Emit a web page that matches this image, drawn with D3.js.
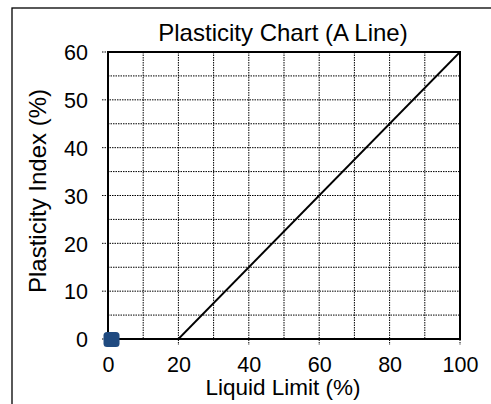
<!DOCTYPE html>
<html>
<head>
<meta charset="utf-8">
<script src="https://cdn.jsdelivr.net/npm/d3@7"></script>
<style>
  body { margin: 0; background: #fff; }
  svg { display: block; font-family: "Liberation Sans", Arial, sans-serif; }
</style>
</head>
<body>
<svg id="chart" width="491" height="404"></svg>
<script>
// A line: PI = 0.75 (LL - 20)
var aLineLL = [20, 100];
var aLinePI = [0, 60];

// sample points
var sampleLL = [1];
var samplePI = [0];

var xTicks = [0, 20, 40, 60, 80, 100];
var yTicks = [0, 10, 20, 30, 40, 50, 60];
var xGrid = d3.range(0, 101, 10);
var yGrid = d3.range(0, 61, 5);

var plotL = 108, plotR = 460, plotT = 52, plotB = 339;

var svg = d3.select("#chart");

// outer frame (clipped by window on right/bottom)
svg.append("rect")
  .attr("x", 12).attr("y", 8)
  .attr("width", 520).attr("height", 440)
  .attr("fill", "none").attr("stroke", "#000").attr("stroke-width", 1.3);

var x = d3.scaleLinear().domain([0, 100]).range([plotL, plotR]);
var y = d3.scaleLinear().domain([0, 60]).range([plotB, plotT]);

// grid lines, dotted
var g = svg.append("g");
g.selectAll(".vg")
  .data(xGrid)
  .enter()
  .append("line")
  .attr("x1", d => x(d)).attr("x2", d => x(d))
  .attr("y1", plotT)
  .attr("y2", d => xTicks.indexOf(d) >= 0 ? plotB + 6 : plotB)
  .attr("stroke", "#000").attr("stroke-width", 1)
  .attr("stroke-dasharray", "1.5,1");

g.selectAll(".hg")
  .data(yGrid)
  .enter()
  .append("line")
  .attr("y1", d => y(d)).attr("y2", d => y(d))
  .attr("x1", d => yTicks.indexOf(d) >= 0 ? plotL - 6 : plotL)
  .attr("x2", plotR)
  .attr("stroke", "#000").attr("stroke-width", 1)
  .attr("stroke-dasharray", "1.5,1");

// plot border
svg.append("rect")
  .attr("x", plotL).attr("y", plotT)
  .attr("width", plotR - plotL).attr("height", plotB - plotT)
  .attr("fill", "none").attr("stroke", "#000").attr("stroke-width", 2);

// tick labels via d3 axes
var xAxis = d3.axisBottom(x).tickValues(xTicks).tickSize(0).tickPadding(18);
var yAxis = d3.axisLeft(y).tickValues(yTicks).tickSize(0).tickPadding(14);

var gx = svg.append("g").attr("transform", "translate(0," + plotB + ")").call(xAxis);
var gy = svg.append("g").attr("transform", "translate(" + plotL + ",0)").call(yAxis);
[gx, gy].forEach(function(a) {
  a.select(".domain").remove();
  a.attr("font-family", "Liberation Sans, Arial, sans-serif").attr("font-size", 21.5);
  a.selectAll("text").attr("fill", "#000");
});
gx.selectAll("text").attr("dy", "0.71em");
gy.selectAll("text").attr("dx", "-6").attr("dy", "0.36em");

// A line
var line = d3.line().x(d => x(d[0])).y(d => y(d[1]));
svg.append("path")
  .datum(aLineLL.map((d, i) => [d, aLinePI[i]]))
  .attr("d", line)
  .attr("fill", "none").attr("stroke", "#000").attr("stroke-width", 1.8);

// sample markers
svg.selectAll(".pt")
  .data(sampleLL.map((d, i) => [d, samplePI[i]]))
  .enter()
  .append("rect")
  .attr("x", d => x(d[0]) - 8).attr("y", d => y(d[1]) - 7)
  .attr("width", 16).attr("height", 15)
  .attr("rx", 3.5).attr("ry", 3.5)
  .attr("fill", "#1f4a80");

// titles
svg.append("text")
  .attr("x", (plotL + plotR) / 2 - 1).attr("y", 41)
  .attr("text-anchor", "middle").attr("font-size", 24)
  .text("Plasticity Chart (A Line)");

svg.append("text")
  .attr("x", 283).attr("y", 395)
  .attr("text-anchor", "middle").attr("font-size", 22.5)
  .text("Liquid Limit (%)");

svg.append("text")
  .attr("transform", "translate(46,191) rotate(-90)")
  .attr("text-anchor", "middle").attr("font-size", 24)
  .text("Plasticity Index (%)");
</script>
</body>
</html>
